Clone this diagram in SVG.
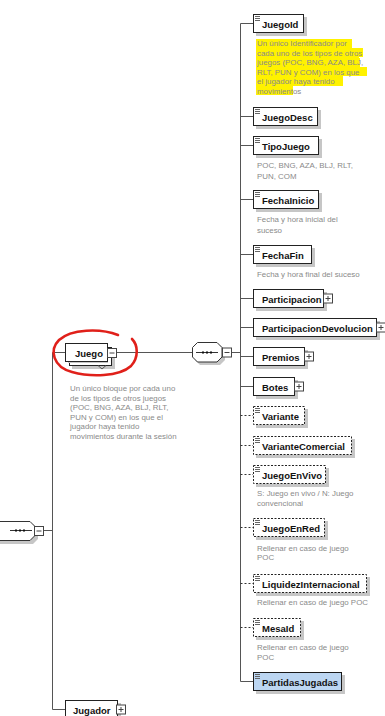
<svg xmlns="http://www.w3.org/2000/svg" xmlns:xlink="http://www.w3.org/1999/xlink" width="385" height="716" viewBox="0 0 385 716">
<style>
.ln{stroke:#555;stroke-width:1;fill:none}
.dl{stroke:#333;stroke-width:1;fill:none;stroke-dasharray:2 2}
.bx{fill:#fff;stroke:#222;stroke-width:1}
.bxd{fill:#fff;stroke:#222;stroke-width:1;stroke-dasharray:2 1.5}
.bxb{fill:#bcd6f2;stroke:#1a1a1a;stroke-width:1}
.sh{fill:#c6c6c6}
.t{font-family:"Liberation Sans",Arial,sans-serif;font-weight:bold;font-size:9.5px;fill:#111}
.d{font-family:"Liberation Sans",Arial,sans-serif;font-size:7.9px;fill:#8a8a8a}
.hl{fill:#fff200}
.red{fill:none;stroke:#e0201a;stroke-width:2.6;stroke-linecap:round}
</style>
<defs>
<g id="ic"><path d="M0 0.5h5M0 2.5h5M0 4.5h5" stroke="#666" stroke-width="1"/></g>
<g id="plus"><rect x="0.5" y="0.5" width="9" height="9" fill="#fff" stroke="#444"/><path d="M2.5 5h5M5 2.5v5" stroke="#444"/></g>
<g id="minus"><rect x="0.5" y="0.5" width="9" height="9" fill="#fff" stroke="#444"/><path d="M2.5 5h5" stroke="#444"/></g>
</defs>

<g id="connectors">
<path class="ln" d="M43.5 530.5H52.5M52.5 352.5V709.5M52.5 352.5H66M52.5 709.5H65"/>
<path class="ln" d="M116 352.5H192M231 352.5H240.5"/>
<path class="ln" d="M240.5 23.5V681.5"/>
<path class="ln" d="M240.5 23.5H253M240.5 116.5H253M240.5 145.5H253M240.5 199.5H253M240.5 254.5H253M240.5 298.5H253M240.5 327.5H253M240.5 356.5H253M240.5 386.5H253M240.5 681.5H253"/>
<path class="dl" d="M240.5 415.5H253M240.5 445.5H253M240.5 474.5H253M240.5 527.5H253M240.5 583.5H253M240.5 627.5H253"/>
</g>

<g id="seq-left">
<path d="M-10 524H33L38 529V539L33 544H-10Z" class="sh"/>
<path d="M-10 521.5H30L35 526.5V535.5L30 540.5H-10Z" fill="#fff" stroke="#333"/>
<path d="M10 530.5H32" stroke="#333"/>
<path d="M15 529.5h2v2h-2zM19 529.5h2v2h-2zM23 529.5h2v2h-2z" fill="#111"/>
<use href="#minus" x="34" y="526"/>
</g>

<g id="n-Juego">
<rect class="sh" x="72" y="350" width="43" height="19"/>
<rect class="bx" x="69.5" y="347.5" width="42" height="18"/>
<rect class="sh" x="68" y="346" width="40" height="17"/>
<rect class="bx" x="65.5" y="343.5" width="42" height="18"/>
<path d="M98 365.5L102 369L106 365.5" class="ln"/>
<text class="t" x="75" y="356.5">Juego</text>
<use href="#minus" x="107" y="348"/>
<text class="d"><tspan x="70" y="391">Un único bloque por cada uno</tspan><tspan x="70" y="400.5">de los tipos de otros juegos</tspan><tspan x="70" y="410">(POC, BNG, AZA, BLJ, RLT,</tspan><tspan x="70" y="419.5">PUN y COM) en los que el</tspan><tspan x="70" y="429">jugador haya tenido</tspan><tspan x="70" y="438.5">movimientos durante la sesión</tspan></text>
</g>

<g id="seq-right">
<path d="M200 345H220L225 350V360L220 365H200L195 360V350Z" class="sh"/>
<path d="M197.5 342.5H217L222 347.5V357L217 362H197.5L192.5 357V347.5Z" fill="#fff" stroke="#333"/>
<path d="M196 352.5H218" stroke="#333"/>
<path d="M202 351.5h2v2h-2zM206 351.5h2v2h-2zM210 351.5h2v2h-2z" fill="#111"/>
<use href="#minus" x="222" y="347.5"/>
</g>

<g id="n-JuegoId">
<rect class="sh" x="256" y="17" width="51" height="19"/>
<rect class="bx" x="253.5" y="14.5" width="50" height="18"/>
<use href="#ic" x="255" y="16"/>
<text class="t" x="262" y="27.5">JuegoId</text>
<path class="hl" d="M256 39H352V48H363V57H359V58H360V67H367V76H343V86H293V95H256Z"/>
<text class="d"><tspan x="257" y="46">Un único Identificador por</tspan><tspan x="257" y="55.5">cada uno de los tipos de otros</tspan><tspan x="257" y="65">juegos (POC, BNG, AZA, BLJ,</tspan><tspan x="257" y="74.5">RLT, PUN y COM) en los que</tspan><tspan x="257" y="84">el jugador haya tenido</tspan><tspan x="257" y="93.5">movimientos</tspan></text>
</g>

<g id="n-JuegoDesc">
<rect class="sh" x="256" y="110" width="65" height="19"/>
<rect class="bx" x="253.5" y="107.5" width="64" height="18"/>
<use href="#ic" x="255" y="109"/>
<text class="t" x="262" y="120.5">JuegoDesc</text>
</g>

<g id="n-TipoJuego">
<rect class="sh" x="256" y="139" width="66" height="19"/>
<rect class="bx" x="253.5" y="136.5" width="65" height="18"/>
<use href="#ic" x="255" y="138"/>
<text class="t" x="262" y="149.5">TipoJuego</text>
<text class="d"><tspan x="257" y="168">POC, BNG, AZA, BLJ, RLT,</tspan><tspan x="257" y="178.5">PUN, COM</tspan></text>
</g>

<g id="n-FechaInicio">
<rect class="sh" x="256" y="193" width="66" height="19"/>
<rect class="bx" x="253.5" y="190.5" width="65" height="18"/>
<use href="#ic" x="255" y="192"/>
<text class="t" x="262" y="203.5">FechaInicio</text>
<text class="d"><tspan x="257" y="222">Fecha y hora inicial del</tspan><tspan x="257" y="232.5">suceso</tspan></text>
</g>

<g id="n-FechaFin">
<rect class="sh" x="256" y="248" width="59" height="19"/>
<rect class="bx" x="253.5" y="245.5" width="58" height="18"/>
<use href="#ic" x="255" y="247"/>
<text class="t" x="262" y="258.5">FechaFin</text>
<text class="d" x="257" y="277">Fecha y hora final del suceso</text>
</g>

<g id="n-Participacion">
<rect class="sh" x="256" y="292" width="71" height="19"/>
<rect class="bx" x="253.5" y="289.5" width="70" height="18"/>
<text class="t" x="262" y="302.5">Participacion</text>
<use href="#plus" x="323" y="293.5"/>
</g>

<g id="n-ParticipacionDevolucion">
<rect class="sh" x="256" y="321" width="124" height="19"/>
<rect class="bx" x="253.5" y="318.5" width="123" height="18"/>
<text class="t" x="262" y="331.5">ParticipacionDevolucion</text>
<use href="#plus" x="376" y="322.5"/>
</g>

<g id="n-Premios">
<rect class="sh" x="256" y="350" width="52" height="19"/>
<rect class="bx" x="253.5" y="347.5" width="51" height="18"/>
<text class="t" x="262" y="360.5">Premios</text>
<use href="#plus" x="304" y="351.5"/>
</g>

<g id="n-Botes">
<rect class="sh" x="256" y="380" width="42" height="19"/>
<rect class="bx" x="253.5" y="377.5" width="41" height="18"/>
<text class="t" x="262" y="390.5">Botes</text>
<use href="#plus" x="294" y="381.5"/>
</g>

<g id="n-Variante">
<rect class="sh" x="256" y="409" width="52" height="19"/>
<rect class="bxd" x="253.5" y="406.5" width="51" height="18"/>
<use href="#ic" x="255" y="408"/>
<text class="t" x="262" y="419.5">Variante</text>
</g>

<g id="n-VarianteComercial">
<rect class="sh" x="256" y="439" width="99" height="19"/>
<rect class="bxd" x="253.5" y="436.5" width="98" height="18"/>
<use href="#ic" x="255" y="438"/>
<text class="t" x="262" y="449.5">VarianteComercial</text>
</g>

<g id="n-JuegoEnVivo">
<rect class="sh" x="256" y="468" width="73" height="19"/>
<rect class="bxd" x="253.5" y="465.5" width="72" height="18"/>
<use href="#ic" x="255" y="467"/>
<text class="t" x="262" y="478.5">JuegoEnVivo</text>
<text class="d"><tspan x="257" y="496">S: Juego en vivo / N: Juego</tspan><tspan x="257" y="506">convencional</tspan></text>
</g>

<g id="n-JuegoEnRed">
<rect class="sh" x="256" y="521" width="72" height="19"/>
<rect class="bxd" x="253.5" y="518.5" width="71" height="18"/>
<use href="#ic" x="255" y="520"/>
<text class="t" x="262" y="531.5">JuegoEnRed</text>
<text class="d"><tspan x="257" y="550.5">Rellenar en caso de juego</tspan><tspan x="257" y="560">POC</tspan></text>
</g>

<g id="n-LiquidezInternacional">
<rect class="sh" x="256" y="577" width="114" height="19"/>
<rect class="bxd" x="253.5" y="574.5" width="113" height="18"/>
<use href="#ic" x="255" y="576"/>
<text class="t" x="262" y="587.5">LiquidezInternacional</text>
<text class="d" x="257" y="605">Rellenar en caso de juego POC</text>
</g>

<g id="n-MesaId">
<rect class="sh" x="256" y="621" width="48" height="19"/>
<rect class="bxd" x="253.5" y="618.5" width="47" height="18"/>
<use href="#ic" x="255" y="620"/>
<text class="t" x="262" y="631.5">MesaId</text>
<text class="d"><tspan x="257" y="649.5">Rellenar en caso de juego</tspan><tspan x="257" y="659.5">POC</tspan></text>
</g>

<g id="n-PartidasJugadas">
<rect class="sh" x="256" y="675" width="89" height="19"/>
<rect class="bxb" x="253.5" y="672.5" width="88" height="18"/>
<use href="#ic" x="255" y="674"/>
<text class="t" x="262" y="685.5">PartidasJugadas</text>
</g>

<g id="n-Jugador">
<rect class="sh" x="68" y="703" width="53" height="19"/>
<rect class="bx" x="65.5" y="700.5" width="52" height="18"/>
<text class="t" x="73" y="713.5">Jugador</text>
<use href="#plus" x="116" y="704.5"/>
</g>

<path class="red" d="M118 335C100 328 71 329 59 340C49 350 53 367 72 372C90 377 119 377 131 366C139 357 138 345 132 339"/>
</svg>
